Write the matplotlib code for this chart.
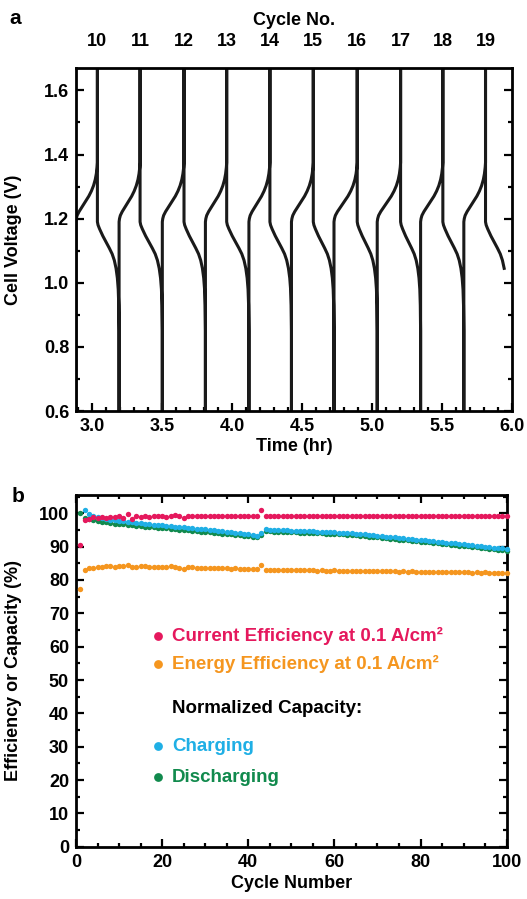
import numpy as np
import matplotlib
matplotlib.use("Agg")
import matplotlib.pyplot as plt
from matplotlib.ticker import MultipleLocator

plt.rcParams['font.family'] = ['Liberation Sans', 'DejaVu Sans']
plt.rcParams['font.weight'] = 'bold'
plt.rcParams['font.size'] = 13
plt.rcParams['axes.labelweight'] = 'bold'

# ---- panel a: voltage vs time ----
cycle_no = [10, 11, 12, 13, 14, 15, 16, 17, 18, 19]
# times (hr) where the current switches: charge start, charge end, charge start, ...
switch_hr = [2.884, 3.038, 3.193, 3.343, 3.502, 3.657, 3.810, 3.962, 4.121, 4.271,
             4.425, 4.581, 4.729, 4.895, 5.038, 5.205, 5.348, 5.507, 5.657, 5.812, 5.967]
record_end_hr = 5.95

# one charge / discharge step (fraction of step time, volts)
charge_frac = [0, 0, 0.02, 0.06, 0.15, 0.30, 0.45, 0.60, 0.72, 0.82, 0.90, 0.95, 0.985, 1.0, 1.0]
charge_volt = [0.5, 1.19, 1.20, 1.21, 1.222, 1.238, 1.254, 1.27, 1.286, 1.303, 1.322, 1.34, 1.36, 1.375, 1.8]
discharge_frac = [0, 0, 0.03, 0.10, 0.25, 0.40, 0.55, 0.68, 0.78, 0.86, 0.92, 0.96, 0.985, 1.0, 1.0]
discharge_volt = [1.8, 1.19, 1.18, 1.168, 1.146, 1.127, 1.108, 1.09, 1.07, 1.045, 1.015, 0.98, 0.93, 0.85, 0.5]

# ---- panel b: efficiencies / capacity vs cycle ----
cycle_number = np.arange(1, 101)
current_eff = [90.5, 98.0, 98.2, 98.9, 98.6, 98.9, 98.7, 99.0, 98.9, 99.1,
               98.7, 99.7, 98.3, 99.1, 99.0, 99.2, 99.0, 99.2, 99.1, 99.3,
               99.0, 99.2, 99.4, 99.1, 98.6, 99.3, 99.2, 99.1, 99.3, 99.2,
               99.1, 99.2, 99.3, 99.2, 99.1, 99.2, 99.2, 99.1, 99.2, 99.3,
               99.2, 99.1, 101.0, 99.2, 99.1, 99.2, 99.3, 99.2, 99.2, 99.3,
               99.2, 99.2, 99.3, 99.2, 99.1, 99.2, 99.3, 99.2, 99.2, 99.3,
               99.2, 99.2, 99.1, 99.2, 99.3, 99.2, 99.2, 99.2, 99.3, 99.2,
               99.2, 99.3, 99.2, 99.2, 99.1, 99.2, 99.2, 99.3, 99.2, 99.2,
               99.2, 99.3, 99.2, 99.2, 99.2, 99.1, 99.2, 99.2, 99.3, 99.2,
               99.2, 99.2, 99.3, 99.2, 99.2, 99.2, 99.2, 99.3, 99.2, 99.2]
energy_eff = [77.3, 83.0, 83.5, 83.7, 83.9, 84.0, 84.1, 84.1, 84.0, 84.2,
              84.1, 84.5, 84.0, 83.8, 84.2, 84.1, 84.0, 83.8, 84.0, 83.8,
              83.9, 84.2, 83.9, 83.7, 83.4, 83.9, 83.8, 83.7, 83.7, 83.6,
              83.6, 83.5, 83.6, 83.5, 83.5, 83.4, 83.5, 83.4, 83.4, 83.3,
              83.3, 83.2, 84.4, 83.1, 83.0, 83.1, 83.0, 83.0, 83.0, 82.9,
              83.0, 82.9, 82.9, 83.0, 82.9, 82.8, 82.9, 82.8, 82.8, 82.9,
              82.8, 82.8, 82.7, 82.8, 82.8, 82.7, 82.8, 82.7, 82.7, 82.6,
              82.7, 82.6, 82.6, 82.7, 82.5, 82.6, 82.5, 82.6, 82.5, 82.5,
              82.4, 82.5, 82.4, 82.4, 82.5, 82.3, 82.4, 82.3, 82.4, 82.3,
              82.3, 82.2, 82.3, 82.2, 82.3, 82.2, 82.2, 82.1, 82.2, 82.1]
charging_cap = [np.nan, 101.0, 99.7, 99.1, 98.8, 98.5, 98.3, 98.1, 97.9, 97.7,
                97.6, 97.5, 97.3, 97.2, 97.0, 96.9, 96.8, 96.6, 96.5, 96.4,
                96.3, 96.2, 96.0, 95.9, 95.8, 95.7, 95.5, 95.4, 95.3, 95.2,
                95.0, 94.9, 94.8, 94.6, 94.5, 94.3, 94.2, 94.0, 93.9, 93.7,
                93.5, 93.3, 94.0, 95.2, 95.1, 95.0, 95.0, 94.9, 94.9, 94.8,
                94.8, 94.7, 94.7, 94.6, 94.6, 94.5, 94.5, 94.4, 94.4, 94.3,
                94.2, 94.2, 94.1, 94.0, 93.9, 93.8, 93.7, 93.5, 93.4, 93.3,
                93.2, 93.0, 92.9, 92.8, 92.6, 92.5, 92.4, 92.3, 92.1, 92.0,
                91.9, 91.8, 91.6, 91.5, 91.4, 91.2, 91.1, 91.0, 90.8, 90.7,
                90.6, 90.4, 90.3, 90.1, 90.0, 89.9, 89.7, 89.6, 89.5, 89.3]
discharging_cap = [100.0, 98.7, 98.4, 98.0, 97.7, 97.5, 97.3, 97.1, 96.9, 96.8,
                   96.7, 96.6, 96.4, 96.3, 96.2, 96.0, 95.9, 95.8, 95.7, 95.6,
                   95.5, 95.4, 95.2, 95.1, 95.0, 94.9, 94.8, 94.6, 94.5, 94.4,
                   94.3, 94.2, 94.0, 93.9, 93.8, 93.7, 93.5, 93.4, 93.2, 93.1,
                   93.0, 92.8, 93.6, 94.6, 94.6, 94.5, 94.5, 94.4, 94.4, 94.3,
                   94.3, 94.2, 94.2, 94.1, 94.1, 94.0, 94.0, 93.9, 93.9, 93.8,
                   93.7, 93.7, 93.6, 93.5, 93.4, 93.3, 93.2, 93.0, 92.9, 92.8,
                   92.7, 92.5, 92.4, 92.3, 92.1, 92.0, 91.9, 91.8, 91.6, 91.5,
                   91.4, 91.3, 91.1, 91.0, 90.9, 90.7, 90.6, 90.5, 90.3, 90.2,
                   90.1, 89.9, 89.8, 89.6, 89.5, 89.4, 89.2, 89.1, 89.0, 88.8]

pink = '#E5185D'
orange = '#F5961F'
cyan = '#1FAFE5'
green = '#118A4D'

fig = plt.figure(figsize=(5.27, 8.99), dpi=100)


def style_axes(ax):
    for sp in ax.spines.values():
        sp.set_linewidth(2)
    ax.tick_params(which='both', direction='in', top=True, right=True, width=1.6)
    ax.tick_params(which='major', length=6, pad=5)
    ax.tick_params(which='minor', length=3)


# panel a
ax1 = fig.add_axes([0.1442, 0.5428, 0.827, 0.3816])
t_all, v_all = [], []
for i in range(len(switch_hr) - 1):
    s0, s1 = switch_hr[i], switch_hr[i + 1]
    if i % 2 == 0:
        fr, vv = charge_frac, charge_volt
    else:
        fr, vv = discharge_frac, discharge_volt
    t_all += [s0 + f * (s1 - s0) for f in fr]
    v_all += vv
t_all = np.array(t_all)
v_all = np.array(v_all)
keep = t_all <= record_end_hr
ax1.plot(t_all[keep], v_all[keep], color='#1a1a1a', lw=2.2, solid_joinstyle='round')

ax1.set_xlim(2.885, 6.0)
ax1.set_ylim(0.6, 1.67)
ax1.xaxis.set_major_locator(MultipleLocator(0.5))
ax1.xaxis.set_minor_locator(MultipleLocator(0.1))
ax1.yaxis.set_major_locator(MultipleLocator(0.2))
ax1.yaxis.set_minor_locator(MultipleLocator(0.1))
style_axes(ax1)
ax1.set_xlabel('Time (hr)', labelpad=2)
ax1.set_ylabel('Cell Voltage (V)')
ax1.yaxis.set_label_coords(-0.125, 0.5)

top = ax1.twiny()
top.set_xlim(ax1.get_xlim())
top.set_xticks(switch_hr[1::2])
top.set_xticklabels([str(c) for c in cycle_no])
top.tick_params(length=0, pad=13)
top.set_xlabel('Cycle No.', labelpad=6)
for sp in top.spines.values():
    sp.set_visible(False)

# panel b
ax2 = fig.add_axes([0.1442, 0.0582, 0.8173, 0.3912])
ax2.scatter(cycle_number, discharging_cap, s=15, color=green, linewidths=0, clip_on=False, zorder=3)
ax2.scatter(cycle_number, charging_cap, s=15, color=cyan, linewidths=0, clip_on=False, zorder=3)
ax2.scatter(cycle_number, energy_eff, s=15, color=orange, linewidths=0, clip_on=False, zorder=3)
ax2.scatter(cycle_number, current_eff, s=15, color=pink, linewidths=0, clip_on=False, zorder=3)
ax2.set_xlim(0, 100)
ax2.set_ylim(0, 105.5)
ax2.xaxis.set_major_locator(MultipleLocator(20))
ax2.xaxis.set_minor_locator(MultipleLocator(5))
ax2.yaxis.set_major_locator(MultipleLocator(10))
ax2.yaxis.set_minor_locator(MultipleLocator(5))
style_axes(ax2)
ax2.set_xlabel('Cycle Number', labelpad=3)
ax2.set_ylabel('Efficiency or Capacity (%)')
ax2.yaxis.set_label_coords(-0.125, 0.5)

# legend written out as in the figure
legend_rows = [
    ('Current Efficiency at 0.1 A/cm²', pink, 0.599, True),
    ('Energy Efficiency at 0.1 A/cm²', orange, 0.519, True),
    ('Normalized Capacity:', 'black', 0.392, False),
    ('Charging', cyan, 0.286, True),
    ('Discharging', green, 0.198, True),
]
for label, col, yy, has_dot in legend_rows:
    if has_dot:
        ax2.scatter([0.19], [yy], s=40, color=col, linewidths=0, transform=ax2.transAxes)
    ax2.text(0.223, yy, label, color=col, fontsize=13.5, fontweight='bold',
             va='center', ha='left', transform=ax2.transAxes)

fig.text(15 / 527, 1 - 18 / 899, 'a', fontsize=15, fontweight='bold', ha='center', va='center')
fig.text(18 / 527, 1 - 496 / 899, 'b', fontsize=15, fontweight='bold', ha='center', va='center')

fig.savefig('out.png', dpi=100)
